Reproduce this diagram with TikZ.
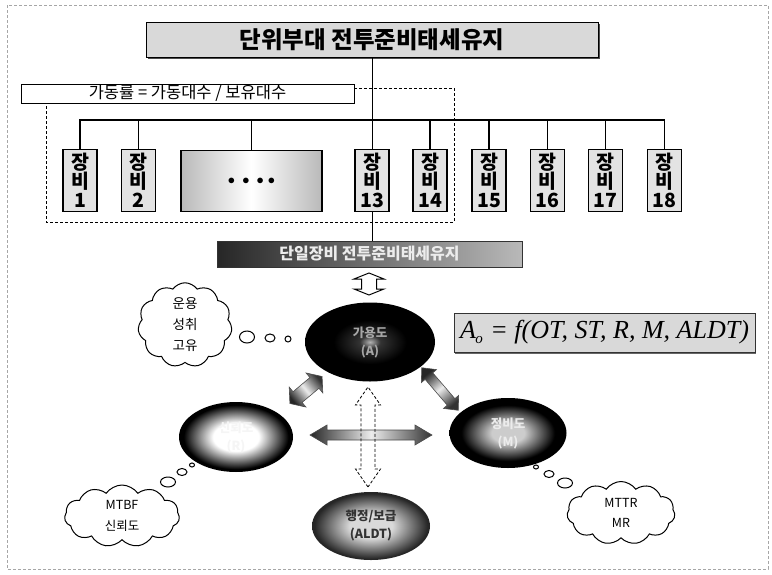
\documentclass[tikz,border=0pt]{standalone}
\usepackage{fontspec}
\setmainfont{Noto Sans CJK KR}
\newfontfamily\timesf{Liberation Serif}
\usetikzlibrary{shapes.symbols,shapes.geometric,shadows}
\colorlet{cAin}{gray!60}
\colorlet{cAmid}{gray!40!black}
\colorlet{cMin}{gray!40}
\colorlet{cLin}{gray!30}
\colorlet{cLout}{black!85}
\pgfdeclareradialshading{ellA}{\pgfpoint{0bp}{0bp}}{color(0bp)=(cAin); color(4bp)=(cAmid); color(14bp)=(black); color(25bp)=(black); color(50bp)=(black)}
\pgfdeclareradialshading{ellR}{\pgfpoint{0bp}{0bp}}{color(0bp)=(white); color(10bp)=(white); color(23bp)=(black); color(25bp)=(black); color(50bp)=(black)}
\pgfdeclareradialshading{ellM}{\pgfpoint{0bp}{0bp}}{color(0bp)=(cMin); color(7bp)=(cMin); color(20bp)=(black); color(25bp)=(black); color(50bp)=(black)}
\pgfdeclareradialshading{ellL}{\pgfpoint{0bp}{0bp}}{color(0bp)=(cLin); color(9bp)=(cLin); color(24bp)=(cLout); color(25bp)=(cLout); color(50bp)=(cLout)}
\newcommand\DArr[8]{%
\begin{scope}[shift={(#2,#3)},rotate=#4]
\path[#1] (-#5,0) -- (-#5+#6,-#7) -- (-#5+#6,-#8) -- (#5-#6,-#8) -- (#5-#6,-#7) -- (#5,0) -- (#5-#6,#7) -- (#5-#6,#8) -- (-#5+#6,#8) -- (-#5+#6,#7) -- cycle;
\end{scope}}
\begin{document}
\begin{tikzpicture}[x=1pt,y=-1pt,
  titlebox/.style={draw=black, line width=1pt, fill=gray!30, minimum width=452, minimum height=35, inner sep=0,
    drop shadow={shadow xshift=2pt, shadow yshift=-2pt, fill=black!70, opacity=1},
    font=\fontsize{23.5}{24}\selectfont\bfseries},
  ratebox/.style={draw=black, line width=0.9pt, fill=white, minimum width=333, minimum height=19, inner sep=0,
    font=\fontsize{16.5}{16}\selectfont},
  eqbox/.style={draw=black, line width=1.1pt, fill=gray!22, minimum width=34, minimum height=62, inner sep=0,
    align=center, font=\fontsize{19.5}{19}\selectfont\bfseries},
  dotbox/.style={draw=black, line width=1.1pt, left color=gray!55, right color=gray!55, middle color=white,
    minimum width=141, minimum height=61, inner sep=0},
  barbox/.style={draw=black!80, left color=black!85, right color=gray!55, minimum width=305, minimum height=26,
    inner sep=0, text=white!85!gray, font=\fontsize{16}{16}\selectfont\bfseries},
  aobox/.style={draw=black!80, line width=1pt, fill=gray!30, minimum width=301, minimum height=39, inner sep=0,
    drop shadow={shadow xshift=1pt, shadow yshift=-2pt, fill=black!60, opacity=1}},
  ell/.style={ellipse, inner sep=0, align=center, font=\fontsize{12.5}{18}\selectfont\bfseries},
  cld/.style={cloud, cloud puffs=11, cloud puff arc=110, draw=black, line width=1pt, fill=white, inner sep=0,
    align=center, aspect=1},
  bub/.style={ellipse, draw=black, line width=1pt, fill=white, inner sep=0},
  bus/.style={line width=1.1pt},
  dsh/.style={densely dashed, line width=0.8pt},
  garr/.style={draw=black!70, line width=0.6pt, left color=black!85, right color=black!80, middle color=gray!15},
  harr/.style={draw=black, line width=1pt, fill=white},
  harrd/.style={draw=black, line width=0.8pt, densely dashed}
]
\useasboundingbox (0,0) rectangle (772,574);
% outer frame
\draw[densely dashed, gray!70, line width=0.5pt] (7,5) rectangle (768,569);

% title
\node[titlebox] (title) at (372,39.5) {단위부대 전투준비태세유지};
% rate box
\node[ratebox] (rate) at (187.5,93.5) {\raisebox{-1pt}{가동률 = 가동대수 / 보유대수}};

% equipment
\node[eqbox] (e1) at (80,180.5) {장\\비\\1};
\node[eqbox] (e2) at (138.5,180.5) {장\\비\\2};
\node[dotbox] (dots) at (251.5,181) {\fontsize{15}{15}\selectfont$\bullet\;\bullet\;\bullet\;\bullet$};
\node[eqbox] (e13) at (372,180.5) {장\\비\\13};
\node[eqbox] (e14) at (430,180.5) {장\\비\\14};
\node[eqbox] (e15) at (489,180.5) {장\\비\\15};
\node[eqbox] (e16) at (547.5,180.5) {장\\비\\16};
\node[eqbox] (e17) at (605.5,180.5) {장\\비\\17};
\node[eqbox] (e18) at (664.5,180.5) {장\\비\\18};

% bus
\coordinate (busL) at (80,120);
\coordinate (busR) at (664.5,120);
\draw[bus] (e1.north) -- (busL) -- (busR) -- (e18.north);
\foreach \n in {e2,dots,e14,e15,e16,e17} \draw[bus] (\n.north) -- (\n.north |- busL);
\draw[line width=0.9pt] (title.south) -- (e13.north);

% dashed group outline
\coordinate (g1) at (454,88);
\coordinate (g2) at (454,222);
\coordinate (g3) at (46,222);
\draw[dsh] (rate.east |- g1) -- (g1) -- (g2) -- (g3) -- (g3 |- rate.south);

% dark bar
\node[barbox] (bar) at (369.5,254) {단일장비 전투준비태세유지};
\draw[line width=0.9pt] (e13.south) -- (e13.south |- bar.north);

% ellipses
\node[ell, shade, shading=ellA, minimum width=130, minimum height=79, text=gray!70] (A) at (370,342) {가용도\\(A)};
\node[ell, shade, shading=ellR, minimum width=114, minimum height=70, text=white!92!gray] (R) at (236,437) {신뢰도\\(R)};
\node[ell, shade, shading=ellM, minimum width=117, minimum height=70, text=white!85!gray] (M) at (508,433) {정비도\\(M)};
\node[ell, shade, shading=ellL, minimum width=118, minimum height=68, text=black!80] (L) at (371,526) {행정/보급\\(ALDT)};

% formula
\node[aobox] (ao) at (604.5,332.5) {\timesf\itshape\fontsize{26}{28}\selectfont A\kern-0.5pt\raisebox{-5pt}{\fontsize{15}{15}\selectfont o}\kern1pt{} = f(OT, ST, R, M, ALDT)};

% clouds
\node[cld, minimum width=94, minimum height=84, font=\fontsize{13.5}{21}\selectfont] (c1) at (185,325) {운용\\성취\\고유};
\node[cld, minimum width=115, minimum height=62, font=\fontsize{12.5}{21}\selectfont] (c2) at (122,516) {MTBF\\신뢰도};
\node[cld, minimum width=108, minimum height=63, font=\fontsize{12.5}{20}\selectfont] (c3) at (621,513) {MTTR\\MR};

% bubbles
\node[bub, minimum width=15, minimum height=12] (b11) at (247,337) {};
\node[bub, minimum width=10, minimum height=8] (b12) at (270,338) {};
\node[bub, minimum width=6, minimum height=6] (b13) at (288,339) {};
\node[bub, minimum width=5, minimum height=4] (b21) at (192,465) {};
\node[bub, minimum width=10, minimum height=7] (b22) at (182,472) {};
\node[bub, minimum width=15, minimum height=10] (b23) at (168,482) {};
\node[bub, minimum width=5, minimum height=4] (b31) at (536,467) {};
\node[bub, minimum width=10, minimum height=7] (b32) at (549,474) {};
\node[bub, minimum width=15, minimum height=10] (b33) at (565,483) {};

% arrows
\DArr{harr}{369}{284}{90}{11}{6}{15}{7.5}
\DArr{harr, draw=none}{368}{437}{90}{50}{18}{12.5}{7}
\DArr{garr}{371}{435}{0}{61}{17}{10}{5}
\DArr{harrd}{368}{437}{90}{50}{18}{12.5}{7}
\DArr{garr, shading angle=130}{306}{390}{40}{21}{10}{13}{7}
\DArr{garr, shading angle=40}{440}{389}{-49.4}{28}{11}{10}{5}
\end{tikzpicture}
\end{document}
